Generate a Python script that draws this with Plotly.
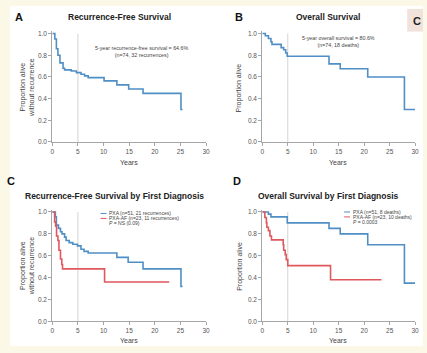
import plotly.graph_objects as go

# ---------------- data ----------------
# Panel A: recurrence-free survival (all)
a_years = [0, 0.5, 0.8, 1.1, 1.5, 2.1, 2.4, 3.7, 4.7, 5.6, 6.3, 7.0, 10.1, 12.6, 14.9, 17.7, 25.1, 25.4]
a_surv  = [1.0, 0.95, 0.86, 0.80, 0.73, 0.68, 0.665, 0.655, 0.64, 0.625, 0.61, 0.594, 0.564, 0.527, 0.488, 0.448, 0.30, 0.30]

# Panel B: overall survival (all)
b_years = [0, 0.6, 1.2, 1.7, 1.9, 3.7, 4.2, 4.6, 4.9, 13.1, 15.3, 20.7, 27.9, 30.0]
b_surv  = [1.0, 0.98, 0.955, 0.924, 0.90, 0.87, 0.85, 0.82, 0.79, 0.72, 0.676, 0.60, 0.30, 0.30]

# Panel C: RFS by first diagnosis
c_pxa_years = [0, 0.6, 0.8, 1.2, 1.6, 1.9, 2.4, 2.7, 3.3, 4.0, 4.9, 5.6, 6.2, 7.0, 12.6, 14.8, 17.7, 25.1, 25.4]
c_pxa_surv  = [1.0, 0.955, 0.88, 0.85, 0.82, 0.80, 0.77, 0.74, 0.72, 0.705, 0.69, 0.66, 0.64, 0.625, 0.585, 0.54, 0.48, 0.32, 0.32]
c_af_years  = [0, 0.45, 0.65, 0.83, 1.1, 1.3, 1.6, 1.85, 2.0, 10.2, 22.8]
c_af_surv   = [1.0, 0.91, 0.87, 0.78, 0.74, 0.65, 0.57, 0.52, 0.48, 0.36, 0.36]

# Panel D: OS by first diagnosis
d_pxa_years = [0, 1.2, 1.7, 4.9, 13.1, 15.3, 20.7, 27.9, 30.0]
d_pxa_surv  = [1.0, 0.98, 0.955, 0.90, 0.85, 0.80, 0.70, 0.35, 0.35]
d_af_years  = [0, 0.5, 0.8, 0.9, 1.2, 1.5, 1.8, 4.1, 4.2, 4.5, 4.7, 5.0, 13.4, 23.4]
d_af_surv   = [1.0, 0.95, 0.90, 0.86, 0.83, 0.78, 0.745, 0.70, 0.65, 0.61, 0.565, 0.51, 0.38, 0.38]

x_ticks = [0, 5, 10, 15, 20, 25, 30]
y_ticks = [0.0, 0.2, 0.4, 0.6, 0.8, 1.0]
y_tick_labels = ["0.0", "0.2", "0.4", "0.6", "0.8", "1.0"]

BLUE = "#4f8fc6"
RED = "#e0575c"
GREY = "#a6a6a6"
W, H = 427, 353
FONT = "Liberation Sans, Arial, sans-serif"

def px_x(p):
    return p / W

def px_y(p):
    return 1 - p / H

fig = go.Figure()

# subplot geometry (pixel based)
panels = {
    "": dict(x0=51, x1=207, y0=142, y1=32),
    "2": dict(x0=264, x1=419, y0=142, y1=32),
    "3": dict(x0=51, x1=207, y0=324, y1=213),
    "4": dict(x0=264, x1=419, y0=324, y1=213),
}
YTOP = 1.02

layout_axes = {}
for k, g in panels.items():
    unit = g["y0"] - g["y1"]
    top = g["y0"] - unit * YTOP
    layout_axes["xaxis" + k] = dict(
        domain=[px_x(g["x0"]), px_x(g["x1"])], range=[0, 30], anchor="y" + k,
        tickvals=x_ticks, ticks="outside", ticklen=3, tickcolor=GREY,
        showline=True, linecolor=GREY, linewidth=1, showgrid=False, zeroline=False,
        tickfont=dict(size=6.5, color="#555", family=FONT), fixedrange=True,
    )
    layout_axes["yaxis" + k] = dict(
        domain=[px_y(g["y0"]), px_y(top)], range=[0, YTOP], anchor="x" + k,
        tickvals=y_ticks, ticktext=y_tick_labels, ticks="outside", ticklen=3, tickcolor=GREY,
        showline=True, linecolor=GREY, linewidth=1, showgrid=False, zeroline=False,
        tickfont=dict(size=6.5, color="#555", family=FONT), fixedrange=True,
    )

def add_line(x, y, color, k):
    fig.add_trace(go.Scatter(
        x=x, y=y, mode="lines", line=dict(color=color, width=1.6, shape="hv"),
        xaxis="x" + k, yaxis="y" + k, showlegend=False, hoverinfo="skip",
    ))

add_line(a_years, a_surv, BLUE, "")
add_line(b_years, b_surv, BLUE, "2")
add_line(c_pxa_years, c_pxa_surv, BLUE, "3")
add_line(c_af_years, c_af_surv, RED, "3")
add_line(d_pxa_years, d_pxa_surv, BLUE, "4")
add_line(d_af_years, d_af_surv, RED, "4")

shapes = []
# cream frame background & white panel
shapes.append(dict(type="rect", xref="paper", yref="paper", x0=px_x(8), x1=1.0,
                   y0=px_y(349), y1=px_y(4), fillcolor="white", line=dict(width=0), layer="below"))
# pink "C" box top-right
shapes.append(dict(type="rect", xref="paper", yref="paper", x0=px_x(411), x1=1.0,
                   y0=px_y(30), y1=px_y(7), fillcolor="#f2e2dc", line=dict(width=0), layer="below"))
for k in panels:
    shapes.append(dict(type="line", xref="x" + k, yref="y" + k, x0=5, x1=5, y0=0, y1=1.0,
                       line=dict(color="#d4d4d4", width=1), layer="below"))
# legend line samples
for (x0, x1, yy, col) in [(100, 106, 214.5, BLUE), (100, 106, 219.5, RED),
                          (347, 353, 213, BLUE), (347, 353, 218, RED)]:
    shapes.append(dict(type="line", xref="paper", yref="paper", x0=px_x(x0), x1=px_x(x1),
                       y0=px_y(yy), y1=px_y(yy), line=dict(color=col, width=1)))

ann = []

def text(x, y, s, size, bold=False, color="#222", xanchor="center", angle=0):
    if bold:
        s = "<b>" + s + "</b>"
    ann.append(dict(xref="paper", yref="paper", x=px_x(x), y=px_y(y), text=s, showarrow=False,
                    xanchor=xanchor, yanchor="middle", textangle=angle,
                    font=dict(size=size, color=color, family=FONT)))

# panel letters
text(17, 15, "A", 11, bold=True, color="#111")
text(240, 15, "B", 11, bold=True, color="#111")
text(9, 182, "C", 11, bold=True, color="#111")
text(238, 182, "D", 11, bold=True, color="#111")
text(415, 19, "C", 11, bold=True, color="#222", xanchor="left")

# titles
text(119, 15, "Recurrence-Free Survival", 8.5, bold=True)
text(331, 15, "Overall Survival", 8.5, bold=True)
text(21, 197, "Recurrence-Free Survival by First Diagnosis", 8.5, bold=True, xanchor="left")
text(331, 197, "Overall Survival by First Diagnosis", 8.5, bold=True)

# axis titles
text(129, 163, "Years", 7, color="#444")
text(341, 163, "Years", 7, color="#444")
text(129, 343, "Years", 7, color="#444")
text(341, 343, "Years", 7, color="#444")
text(25.5, 87, "Proportion alive<br>without recurrence", 7, color="#444", angle=-90)
text(240, 87, "Proportion alive", 7, color="#444", angle=-90)
text(25.5, 268, "Proportion alive<br>without recurrence", 7, color="#444", angle=-90)
text(242, 268, "Proportion alive", 7, color="#444", angle=-90)

# in-plot notes
text(92, 50, "5-year recurrence-free survival = 64.6%<br>(n=74, 32 recurrences)", 5.3, color="#444", xanchor="left")
text(302, 40.5, "5-year overall survival = 80.6%<br>(n=74, 18 deaths)", 5.3, color="#444", xanchor="left")
text(107, 214.5, "PXA (n=51, 21 recurrences)", 5, color="#444", xanchor="left")
text(107, 219.5, "PXA-AF (n=23, 11 recurrences)", 5, color="#444", xanchor="left")
text(107, 224.5, "<i>P</i> = NS (0.09)", 5, color="#444", xanchor="left")
text(354, 213, "PXA (n=51, 8 deaths)", 5, color="#444", xanchor="left")
text(354, 218, "PXA-AF (n=23, 10 deaths)", 5, color="#444", xanchor="left")
text(354, 223, "<i>P</i> = 0.0003", 5, color="#444", xanchor="left")

fig.update_layout(
    width=W, height=H, margin=dict(l=0, r=0, t=0, b=0),
    paper_bgcolor="#fcf8e8", plot_bgcolor="rgba(0,0,0,0)",
    shapes=shapes, annotations=ann, showlegend=False,
    font=dict(family=FONT),
    **layout_axes,
)

fig.write_html(
    "out.html",
    config={"displayModeBar": False},
    post_script="document.body.style.margin='0';document.body.style.overflow='hidden';",
)
